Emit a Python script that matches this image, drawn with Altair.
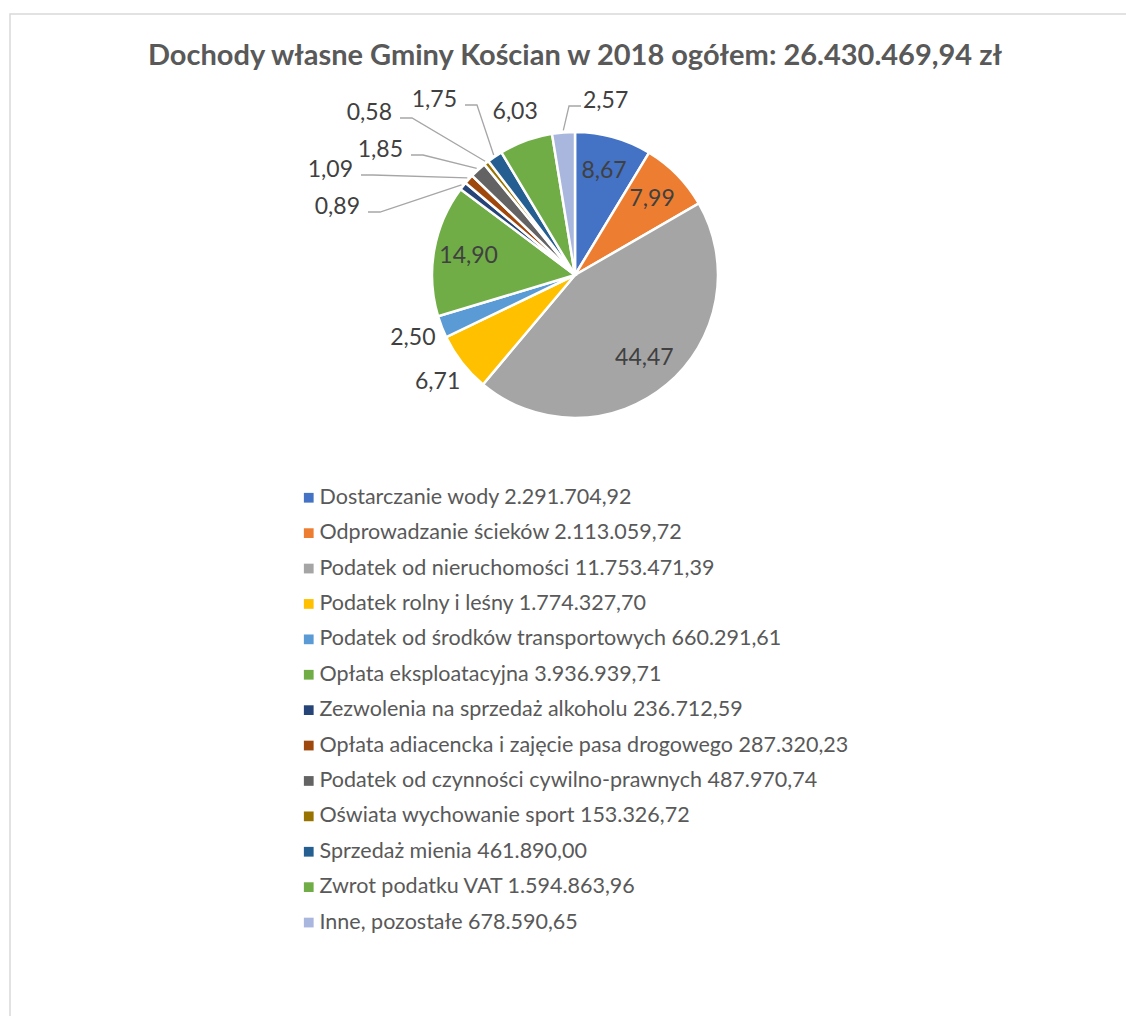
import math
import altair as alt
import pandas as pd

# ---------------- data ----------------
names = [
    "Dostarczanie wody",
    "Odprowadzanie ścieków",
    "Podatek od nieruchomości",
    "Podatek rolny i leśny",
    "Podatek od środków transportowych",
    "Opłata eksploatacyjna",
    "Zezwolenia na sprzedaż alkoholu",
    "Opłata adiacencka i zajęcie pasa drogowego",
    "Podatek od czynności cywilno-prawnych",
    "Oświata wychowanie sport",
    "Sprzedaż mienia",
    "Zwrot podatku VAT",
    "Inne, pozostałe",
]
amounts = [
    2291704.92, 2113059.72, 11753471.39, 1774327.70, 660291.61, 3936939.71,
    236712.59, 287320.23, 487970.74, 153326.72, 461890.00, 1594863.96, 678590.65,
]
# percentage shares as printed on the slices
shares = [8.67, 7.99, 44.47, 6.71, 2.50, 14.90, 0.89, 1.09, 1.85, 0.58, 1.75, 6.03, 2.57]
colors = [
    "#4472C4", "#ED7D31", "#A5A5A5", "#FFC000", "#5B9BD5", "#70AD47",
    "#264478", "#9E480E", "#636363", "#997300", "#255E91", "#70AD47", "#A9B6DD",
]

# ---------------- layout (annotation placement, not data) ----------------
W, H = 1126, 1016
CX, CY, R = 575, 275, 143
FONT = "Lato"
LABEL_SIZE = 23
# label anchor for slices whose labels use leader lines: index -> (x, y, side)
leader_layout = {
    6: (360, 207, "right"),
    7: (353, 170, "right"),
    8: (403, 150, "right"),
    9: (392, 113, "right"),
    10: (457, 100, "right"),
    12: (583, 101, "left"),
}


def pl(v):
    s = f"{v:,.2f}"
    return s.replace(",", "X").replace(".", ",").replace("X", ".")


total = sum(amounts)
tot_share = sum(shares)
starts = [sum(shares[:i]) for i in range(len(shares))]
mids = [s + p / 2 for s, p in zip(starts, shares)]

df = pd.DataFrame({
    "idx": list(range(len(names))),
    "name": names,
    "pct": shares,
    "mid": mids,
    "legend_label": [f"{n} {pl(a)}" for n, a in zip(names, amounts)],
    "pct_label": [f"{p:.2f}".replace(".", ",") for p in shares],
    "leader": [i in leader_layout for i in range(len(names))],
})

legend_labels = list(df["legend_label"])
theta_scale = alt.Scale(domain=[0, tot_share])
xs = alt.Scale(domain=[0, W], range=[0, W], nice=False, zero=False)
ys = alt.Scale(domain=[0, H], range=[0, H], nice=False, zero=False)

# leader label table & leader line geometry
lab_rows, line_rows = [], []
for i, (tx, ty, side) in leader_layout.items():
    lab_rows.append({"idx": i, "tx": tx, "ty": ty, "side": side, "pct_label": df.loc[i, "pct_label"]})
    th = mids[i] / tot_share * 2 * math.pi
    ex, ey = CX + (R + 2) * math.sin(th), CY - (R + 2) * math.cos(th)
    if side == "right":
        endx = tx + 8
        elbx = endx + 12
    else:
        endx = tx - 2
        elbx = endx - 12
    endy = ty + 5
    line_rows += [
        {"lab": i, "seq": 0, "px": ex, "py": ey},
        {"lab": i, "seq": 1, "px": elbx, "py": endy},
        {"lab": i, "seq": 2, "px": endx, "py": endy},
    ]
lab_df = pd.DataFrame(lab_rows)
line_df = pd.DataFrame(line_rows)

# ---------------- chart ----------------
frame = alt.Chart(pd.DataFrame({"a": [0]})).mark_rect(
    filled=False, stroke="#D9D9D9", strokeWidth=1.5
).encode(x=alt.value(10), y=alt.value(14), x2=alt.value(W + 30), y2=alt.value(H + 30))

title = alt.Chart(pd.DataFrame({"t": [f"Dochody własne Gminy Kościan w 2018 ogółem: {pl(total)} zł"]})).mark_text(
    font=FONT, fontSize=29, fontWeight="bold", color="#595959", baseline="middle", align="center"
).encode(text="t:N", x=alt.value(CX), y=alt.value(56))

arcs = alt.Chart(df).mark_arc(outerRadius=R, stroke="white", strokeWidth=2.5).encode(
    theta=alt.Theta("pct:Q", stack=True, scale=theta_scale),
    order=alt.Order("idx:Q"),
    color=alt.Color(
        "legend_label:N",
        scale=alt.Scale(domain=legend_labels, range=colors),
        legend=alt.Legend(
            title=None, orient="none", legendX=298, legendY=487, direction="vertical",
            symbolType="square", symbolSize=95, symbolStrokeWidth=0,
            labelFont=FONT, labelFontSize=21.5, labelColor="#595959", labelLimit=800,
            rowPadding=12.4, labelOffset=0,
        ),
    ),
    x=alt.value(CX), y=alt.value(CY),
)

inner = alt.Chart(df).transform_filter("datum.pct >= 7").mark_text(
    radius=108, font=FONT, fontSize=LABEL_SIZE, color="#404040", baseline="middle", align="center"
).encode(
    theta=alt.Theta("mid:Q", stack=None, scale=theta_scale),
    text="pct_label:N", x=alt.value(CX), y=alt.value(CY),
)

outer = alt.Chart(df).transform_filter("datum.pct < 7 && !datum.leader").mark_text(
    radius=174, font=FONT, fontSize=LABEL_SIZE, color="#404040", baseline="middle", align="center"
).encode(
    theta=alt.Theta("mid:Q", stack=None, scale=theta_scale),
    text="pct_label:N", x=alt.value(CX), y=alt.value(CY),
)

leaders = alt.Chart(line_df).mark_line(color="#A6A6A6", strokeWidth=1.3).encode(
    x=alt.X("px:Q", scale=xs, axis=None),
    y=alt.Y("py:Q", scale=ys, axis=None),
    detail="lab:N",
    order="seq:Q",
)

lab_right = alt.Chart(lab_df).transform_filter("datum.side == 'right'").mark_text(
    font=FONT, fontSize=LABEL_SIZE, color="#404040", baseline="middle", align="right"
).encode(x=alt.X("tx:Q", scale=xs, axis=None), y=alt.Y("ty:Q", scale=ys, axis=None), text="pct_label:N")

lab_left = alt.Chart(lab_df).transform_filter("datum.side == 'left'").mark_text(
    font=FONT, fontSize=LABEL_SIZE, color="#404040", baseline="middle", align="left"
).encode(x=alt.X("tx:Q", scale=xs, axis=None), y=alt.Y("ty:Q", scale=ys, axis=None), text="pct_label:N")

chart = alt.layer(frame, title, arcs, inner, outer, leaders, lab_right, lab_left).properties(
    width=W, height=H, padding=0, autosize=alt.AutoSizeParams(type="none"),
    background="white",
).configure_view(stroke=None)

chart.save("out.html", embed_options={"renderer": "svg", "actions": False})
